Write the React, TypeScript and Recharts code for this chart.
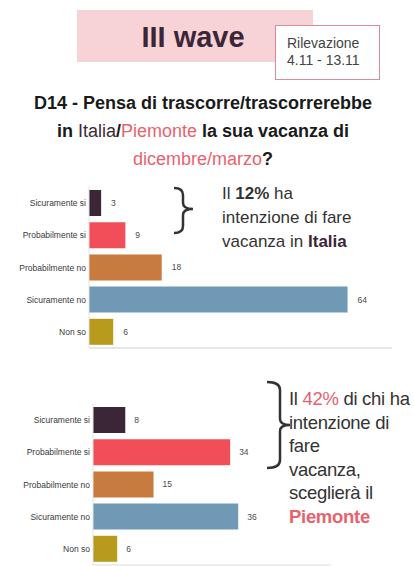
import React from "react";
import { BarChart, Bar, XAxis, YAxis, Cell, LabelList } from "recharts";

const categories = ["Sicuramente si", "Probabilmente si", "Probabilmente no", "Sicuramente no", "Non so"];
const italiaValues = [3, 9, 18, 64, 6];
const piemonteValues = [8, 34, 15, 36, 6];
const barColors = ["#3b2638", "#f24e59", "#c87b3f", "#7099b5", "#b89b1c"];
const italiaTicks = [0, 20, 40, 60];

const italiaData = categories.map((name, i) => ({ name, value: italiaValues[i] }));
const piemonteData = categories.map((name, i) => ({ name, value: piemonteValues[i] }));

const FONT = '"Liberation Sans", Arial, sans-serif';
const PINK = "#e8626e";

const abs = (left: number, top: number, extra: React.CSSProperties = {}): React.CSSProperties => ({
  position: "absolute",
  left,
  top,
  ...extra,
});

const CategoryTick = (props: any) => {
  const { x, y, payload } = props;
  return (
    <text
      x={x}
      y={y}
      dy={3}
      textAnchor="end"
      fontSize={8.5}
      fill="#3a3a3a"
      fontFamily={FONT}
    >
      {payload.value}
    </text>
  );
};

export default function App() {
  return (
    <div
      style={{
        position: "absolute",
        left: 0,
        top: 0,
        width: 414,
        height: 566,
        overflow: "hidden",
        background: "#ffffff",
        fontFamily: FONT,
      }}
    >
      {/* header */}
      <div style={abs(77, 10, { width: 236, height: 52, background: "#f7d3d7" })} />
      <div
        style={abs(77, 23, {
          width: 232,
          textAlign: "center",
          fontSize: 29,
          lineHeight: "29px",
          fontWeight: 700,
          color: "#3b2638",
          whiteSpace: "nowrap",
        })}
      >
        III wave
      </div>
      <div
        style={abs(275, 25, {
          width: 105,
          height: 55,
          boxSizing: "border-box",
          border: "1.5px solid #d98d99",
          background: "#ffffff",
        })}
      />
      <div
        style={abs(287, 35, {
          fontSize: 14,
          lineHeight: "17px",
          color: "#444",
          whiteSpace: "nowrap",
        })}
      >
        Rilevazione
        <br />
        4.11 - 13.11
      </div>

      {/* title */}
      <div
        style={abs(0, 89, {
          width: 406,
          textAlign: "center",
          fontSize: 18,
          lineHeight: "28px",
          fontWeight: 700,
          color: "#1a1a1a",
          whiteSpace: "nowrap",
        })}
      >
        D14 - Pensa di trascorre/trascorrerebbe
        <br />
        in <span style={{ fontWeight: 400, color: "#3b2b38" }}>Italia</span>/
        <span style={{ fontWeight: 400, color: PINK }}>Piemonte</span> la sua vacanza di
        <br />
        <span style={{ fontWeight: 400, color: PINK }}>dicembre/marzo</span>?
      </div>

      {/* chart 1 */}
      <div style={abs(0, 180)}>
        <BarChart
          width={414}
          height={178}
          data={italiaData}
          layout="vertical"
          margin={{ top: 7, right: 22, bottom: 0, left: 0 }}
        >
          <XAxis
            type="number"
            domain={[0, 75]}
            ticks={italiaTicks}
            tick={false}
            tickSize={3}
            height={10}
            axisLine={{ stroke: "#cfcfcf" }}
            tickLine={{ stroke: "#cfcfcf" }}
          />
          <YAxis
            type="category"
            dataKey="name"
            width={89}
            tickLine={false}
            tickSize={0}
            tickMargin={3}
            axisLine={{ stroke: "#e2e2e2" }}
            tick={CategoryTick}
          />
          <Bar dataKey="value" barSize={26} isAnimationActive={false}>
            {italiaData.map((d, i) => (
              <Cell key={d.name} fill={barColors[i]} />
            ))}
            <LabelList
              dataKey="value"
              position="right"
              offset={10}
              style={{ fontSize: 8.5, fill: "#4a4a4a", fontFamily: FONT }}
            />
          </Bar>
        </BarChart>
      </div>

      {/* chart 2 */}
      <div style={abs(0, 395)}>
        <BarChart
          width={414}
          height={171}
          data={piemonteData}
          layout="vertical"
          margin={{ top: 9, right: 83, bottom: 0, left: 0 }}
        >
          <XAxis
            type="number"
            domain={[0, 59]}
            tick={false}
            tickLine={false}
            height={1}
            axisLine={{ stroke: "#dcdcdc" }}
          />
          <YAxis
            type="category"
            dataKey="name"
            width={93}
            tickLine={false}
            tickSize={0}
            tickMargin={3}
            axisLine={{ stroke: "#e2e2e2" }}
            tick={CategoryTick}
          />
          <Bar dataKey="value" barSize={26} isAnimationActive={false}>
            {piemonteData.map((d, i) => (
              <Cell key={d.name} fill={barColors[i]} />
            ))}
            <LabelList
              dataKey="value"
              position="right"
              offset={9}
              style={{ fontSize: 8.5, fill: "#4a4a4a", fontFamily: FONT }}
            />
          </Bar>
        </BarChart>
      </div>

      {/* braces */}
      <svg width={414} height={566} style={abs(0, 0, { pointerEvents: "none" })}>
        <path
          d="M174 188 Q183 188 183 195 L183 203 Q183 209 193 209 Q183 209 183 215 L183 226 Q183 233 174 233"
          fill="none"
          stroke="#333"
          strokeWidth={2.5}
        />
        <path
          d="M267 382 Q280 382 280 390 L280 419 Q280 425 290 425 Q280 425 280 431 L280 460 Q280 468 267 468"
          fill="none"
          stroke="#333"
          strokeWidth={2.5}
        />
      </svg>

      {/* annotation 1 */}
      <div
        style={abs(222, 182, {
          fontSize: 17,
          lineHeight: "24px",
          color: "#333",
          whiteSpace: "nowrap",
        })}
      >
        Il <b>12%</b> ha
        <br />
        intenzione di fare
        <br />
        vacanza in <b style={{ color: "#3b2638" }}>Italia</b>
      </div>

      {/* annotation 2 */}
      <div
        style={abs(289, 387, {
          fontSize: 18.5,
          lineHeight: "23.5px",
          letterSpacing: -0.3,
          color: "#333",
          whiteSpace: "nowrap",
        })}
      >
        Il <span style={{ color: PINK }}>42%</span> di chi ha
        <br />
        intenzione di
        <br />
        fare
        <br />
        vacanza,
        <br />
        sceglierà il
        <br />
        <b style={{ color: PINK }}>Piemonte</b>
      </div>
    </div>
  );
}
